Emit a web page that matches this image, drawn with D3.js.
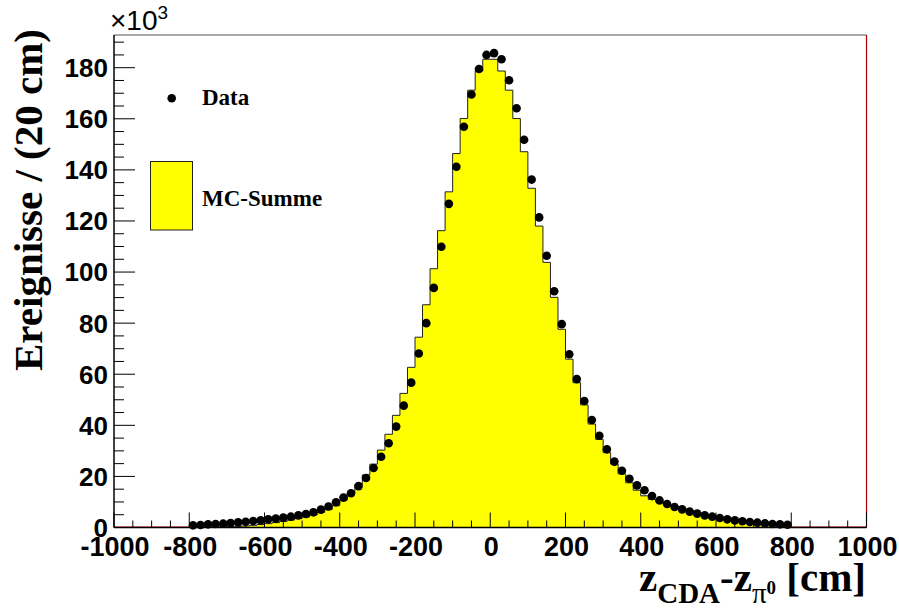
<!DOCTYPE html>
<html><head><meta charset="utf-8">
<script src="https://cdn.jsdelivr.net/npm/d3@7"></script>
<style>body{margin:0;background:#fff}svg{display:block}</style>
</head><body><svg id="c" width="899" height="610"></svg>
<script>
// bins: 20 cm wide from -800 to 800
const binLow = d3.range(-800, 800, 20);
const binWidth = 20;
// data (x10^3)
const dataVals = [0.85,0.98,1.24,1.37,1.5,1.76,2.02,2.28,2.54,2.8,3.2,3.46,3.85,4.24,4.76,5.29,5.94,7.0,8.2,9.9,
 11.7,13.4,16.2,19.4,23.3,27.7,33.0,39.5,47.7,56.7,68.1,80.0,93.8,109.9,126.7,141.2,156.9,169.5,179.5,185.0,
 185.7,183.3,175.1,164.1,151.8,136.2,121.4,106.4,92.5,79.6,67.8,58.1,49.5,42.1,35.9,30.6,25.8,22.2,19.1,16.5,
 14.6,12.3,10.6,9.2,8.03,7.11,6.2,5.42,4.76,4.24,3.72,3.2,2.8,2.42,2.15,1.89,1.63,1.37,1.24,1.1];
// MC sum (x10^3)
const mcVals = [0.1,0.1,0.15,0.2,0.25,0.35,0.45,0.6,0.85,1.15,1.5,1.9,2.4,2.9,3.5,4.1,4.9,5.9,7.0,8.5,
 10.7,13.5,16.8,20.6,24.8,30.3,36.5,43.9,52.5,62.7,74.5,87.2,101.3,116.2,131.4,146.4,160.1,171.2,178.7,183.3,
 183.3,178.7,171.2,160.1,147.1,132.8,118.0,103.8,90.1,77.6,65.9,56.7,48.0,40.5,34.5,29.3,24.8,21.0,17.5,14.6,
 12.4,11.0,10.0,9.1,8.3,7.5,6.7,5.9,5.2,4.5,3.8,3.2,2.7,2.2,1.8,1.4,1.1,0.8,0.5,0.3];
const xTicks = [-1000,-800,-600,-400,-200,0,200,400,600,800,1000];
const yTicks = [0,20,40,60,80,100,120,140,160,180];
const legendLabels = ["Data","MC-Summe"];

const svg = d3.select("#c");
const L=114, R=866.5, T=35, B=527.5;
const x = d3.scaleLinear().domain([-1000,1000]).range([L,R]);
const y = d3.scaleLinear().domain([0,192.8]).range([B,T]);
const sans = "'Liberation Sans',Arial,Helvetica,sans-serif";
const serif = "'Liberation Serif','Times New Roman',serif";

// MC histogram
const pts = [[-800,0]];
binLow.forEach((lo,i)=>{ pts.push([lo,mcVals[i]]); pts.push([lo+binWidth,mcVals[i]]); });
pts.push([800,0]);
const line = d3.line().x(d=>x(d[0])).y(d=>y(d[1]));
svg.append("path").attr("d", line(pts)+"Z").attr("fill","#ffff00").attr("stroke","#222").attr("stroke-width",1);

// red zero lines outside range
svg.append("line").attr("x1",x(-1000)).attr("x2",x(-800)).attr("y1",B-0.5).attr("y2",B-0.5).attr("stroke","#d00").attr("stroke-width",1);
svg.append("line").attr("x1",x(800)).attr("x2",x(1000)).attr("y1",B-0.5).attr("y2",B-0.5).attr("stroke","#d00").attr("stroke-width",1);

// frame
svg.append("line").attr("x1",L).attr("x2",R).attr("y1",T).attr("y2",T).attr("stroke","#555").attr("stroke-width",1.2);
svg.append("line").attr("x1",R).attr("x2",R).attr("y1",T).attr("y2",B).attr("stroke","#a00").attr("stroke-width",1.2);

// x axis
const xa = svg.append("g");
xa.append("line").attr("x1",L).attr("x2",R).attr("y1",B).attr("y2",B).attr("stroke","#000").attr("stroke-width",1.5);
d3.range(-1000,1001,50).forEach(v=>{
  const major = v%200===0;
  xa.append("line").attr("x1",x(v)).attr("x2",x(v)).attr("y1",B).attr("y2",B-(major?15:7)).attr("stroke","#000").attr("stroke-width",1);
});
xa.selectAll("text.xt").data(xTicks).join("text").attr("class","xt")
  .attr("x",d=>x(d)+1).attr("y",556).attr("text-anchor","middle")
  .style("font-family",sans).style("font-weight","bold").style("font-size","27px")
  .text(d=>d);

// y axis
const ya = svg.append("g");
ya.append("line").attr("x1",L).attr("x2",L).attr("y1",T).attr("y2",B).attr("stroke","#000").attr("stroke-width",1.5);
d3.range(0,192,5).forEach(v=>{
  const major = v%20===0;
  ya.append("line").attr("x1",L).attr("x2",L+(major?21:10)).attr("y1",y(v)).attr("y2",y(v)).attr("stroke","#000").attr("stroke-width",1);
});
ya.selectAll("text.yt").data(yTicks).join("text").attr("class","yt")
  .attr("x",108).attr("y",d=>y(d)).attr("dy","0.36em").attr("text-anchor","end")
  .style("font-family",sans).style("font-weight","bold").style("font-size","26px")
  .text(d=>d);

// x10^3
const ex = svg.append("text").attr("x",110).attr("y",30)
  .style("font-family",sans).style("font-size","28px");
ex.append("tspan").text("\u00d710");
ex.append("tspan").attr("dy",-11).style("font-size","19px").text("3");

// data points
svg.selectAll("circle.d").data(dataVals).join("circle").attr("class","d")
  .attr("cx",(d,i)=>x(binLow[i]+binWidth/2)).attr("cy",d=>y(d)).attr("r",4.3).attr("fill","#000");

// legend
svg.append("circle").attr("cx",171.7).attr("cy",98.3).attr("r",4.3).attr("fill","#000");
svg.append("text").attr("x",202).attr("y",105).style("font-family",serif).style("font-weight","bold").style("font-size","23px").text(legendLabels[0]);
svg.append("rect").attr("x",150.5).attr("y",161.5).attr("width",42).attr("height",68.5).attr("fill","#ffff00").attr("stroke","#222").attr("stroke-width",1);
svg.append("text").attr("x",202).attr("y",206).style("font-family",serif).style("font-weight","bold").style("font-size","23px").text(legendLabels[1]);

// y title
svg.append("text").attr("transform","translate(42,200) rotate(-90)").attr("text-anchor","middle")
  .style("font-family",serif).style("font-weight","bold").style("font-size","41px").text("Ereignisse / (20 cm)");

// x title
const xt = svg.append("text").attr("x",866).attr("y",591).attr("text-anchor","end")
  .style("font-family",serif).style("font-weight","bold").style("font-size","41px");
xt.append("tspan").text("z");
xt.append("tspan").attr("dy",12).style("font-size","29px").text("CDA");
xt.append("tspan").attr("dy",-12).text("-z");
xt.append("tspan").attr("dy",12).style("font-size","29px").style("font-weight","normal").text("\u03c0");
xt.append("tspan").attr("dy",-9).style("font-size","19px").text("0");
xt.append("tspan").attr("dy",-3).text(" [cm]");
</script></body></html>
